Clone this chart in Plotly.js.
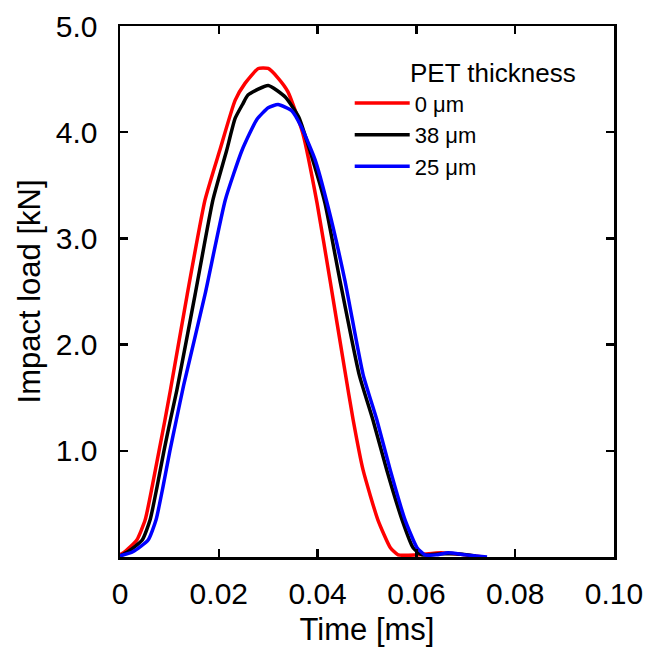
<!DOCTYPE html>
<html>
<head>
<meta charset="utf-8">
<script src="https://cdn.plot.ly/plotly-3.0.1.min.js"></script>
<style>html,body{margin:0;padding:0;background:#fff;}#chart{width:646px;height:655px;}</style>
</head>
<body>
<div id="chart"></div>
<script>
// Time [ms] and impact load [kN] for each PET thickness
const seriesNames = ["0 \u03bcm", "38 \u03bcm", "25 \u03bcm"];
const seriesColors = ["#ff0000", "#000000", "#0000ff"];

const time0 = [0, 0.001, 0.0034, 0.0051, 0.0065, 0.0079, 0.0091, 0.0102, 0.0136, 0.0172, 0.0202, 0.0233, 0.0253, 0.028, 0.030, 0.032, 0.034, 0.037, 0.0399, 0.0425, 0.0455, 0.0472, 0.0492, 0.0522, 0.0547, 0.0563, 0.060, 0.065, 0.070, 0.0735];
const load0 = [0.02, 0.05, 0.16, 0.35, 0.66, 1.0, 1.29, 1.57, 2.47, 3.36, 3.83, 4.30, 4.46, 4.60, 4.60, 4.51, 4.38, 3.99, 3.33, 2.61, 1.76, 1.29, 0.82, 0.35, 0.09, 0.02, 0.02, 0.04, 0.02, 0.0];

const time38 = [0, 0.0016, 0.0045, 0.0061, 0.0075, 0.0089, 0.0102, 0.0115, 0.0152, 0.0188, 0.0216, 0.0233, 0.0249, 0.0259, 0.030, 0.0335, 0.0362, 0.039, 0.0415, 0.0445, 0.0484, 0.0512, 0.054, 0.0571, 0.0593, 0.0611, 0.065, 0.068, 0.072];
const load38 = [0.01, 0.05, 0.16, 0.35, 0.66, 1.0, 1.29, 1.57, 2.47, 3.36, 3.83, 4.13, 4.27, 4.35, 4.44, 4.33, 4.14, 3.74, 3.33, 2.61, 1.72, 1.29, 0.82, 0.35, 0.09, 0.02, 0.03, 0.03, 0.01];

const time25 = [0, 0.0026, 0.0057, 0.0073, 0.0087, 0.0101, 0.0114, 0.0129, 0.0172, 0.0213, 0.0247, 0.0277, 0.030, 0.032, 0.0348, 0.0366, 0.0395, 0.0421, 0.0455, 0.0492, 0.052, 0.0547, 0.0577, 0.0601, 0.0617, 0.064, 0.0664, 0.070, 0.0743];
const load25 = [0.01, 0.05, 0.16, 0.35, 0.66, 1.0, 1.29, 1.62, 2.47, 3.36, 3.83, 4.12, 4.23, 4.26, 4.20, 4.06, 3.74, 3.30, 2.61, 1.72, 1.29, 0.82, 0.35, 0.09, 0.02, 0.02, 0.04, 0.02, 0.0];

const xTickVals = [0, 0.02, 0.04, 0.06, 0.08, 0.10];
const xTickText = ["0", "0.02", "0.04", "0.06", "0.08", "0.10"];
const yTickVals = [1, 2, 3, 4, 5];
const yTickText = ["1.0", "2.0", "3.0", "4.0", "5.0"];
const legendTitle = "PET thickness";

const xs = [time0, time38, time25];
const ys = [load0, load38, load25];

const FONT = "Liberation Sans, Arial, Helvetica, sans-serif";

const traces = xs.map((x, i) => ({
  x: x, y: ys[i], type: "scatter", mode: "lines", name: seriesNames[i],
  line: {color: seriesColors[i], width: 3.5, shape: "spline", smoothing: 0.5}
}));

const axisCommon = {
  showline: true, linecolor: "#000", linewidth: 2.5, mirror: "ticks",
  ticks: "inside", ticklen: 8, tickwidth: 2.5, tickcolor: "#000",
  showgrid: false, zeroline: false, automargin: false,
  tickfont: {family: FONT, size: 30, color: "#000"}
};

const layout = {
  width: 646, height: 655,
  margin: {l: 120, r: 32, t: 26, b: 98},
  paper_bgcolor: "#fff", plot_bgcolor: "#fff",
  font: {family: FONT, color: "#000"},
  showlegend: true,
  legend: {
    x: 0.465, y: 0.894, xanchor: "left", yanchor: "top",
    bgcolor: "rgba(0,0,0,0)", borderwidth: 0,
    font: {family: FONT, size: 22, color: "#000"},
    itemwidth: 55
  },
  xaxis: Object.assign({}, axisCommon, {
    range: [0, 0.10], tickmode: "array", tickvals: xTickVals, ticktext: xTickText,
    ticklabelstandoff: 8,
    title: {text: "Time [ms]", font: {family: FONT, size: 31, color: "#000"}, standoff: 10}
  }),
  yaxis: Object.assign({}, axisCommon, {
    range: [0, 5], tickmode: "array", tickvals: yTickVals, ticktext: yTickText,
    ticklabelstandoff: 14,
    title: {text: "Impact load [kN]", font: {family: FONT, size: 31, color: "#000"}, standoff: 6}
  }),
  annotations: [{
    text: legendTitle, xref: "paper", yref: "paper",
    x: 0.583, y: 0.912, xanchor: "left", yanchor: "middle", showarrow: false,
    font: {family: FONT, size: 26, color: "#000"}
  }]
};

Plotly.newPlot("chart", traces, layout, {displayModeBar: false, staticPlot: true});
</script>
</body>
</html>
